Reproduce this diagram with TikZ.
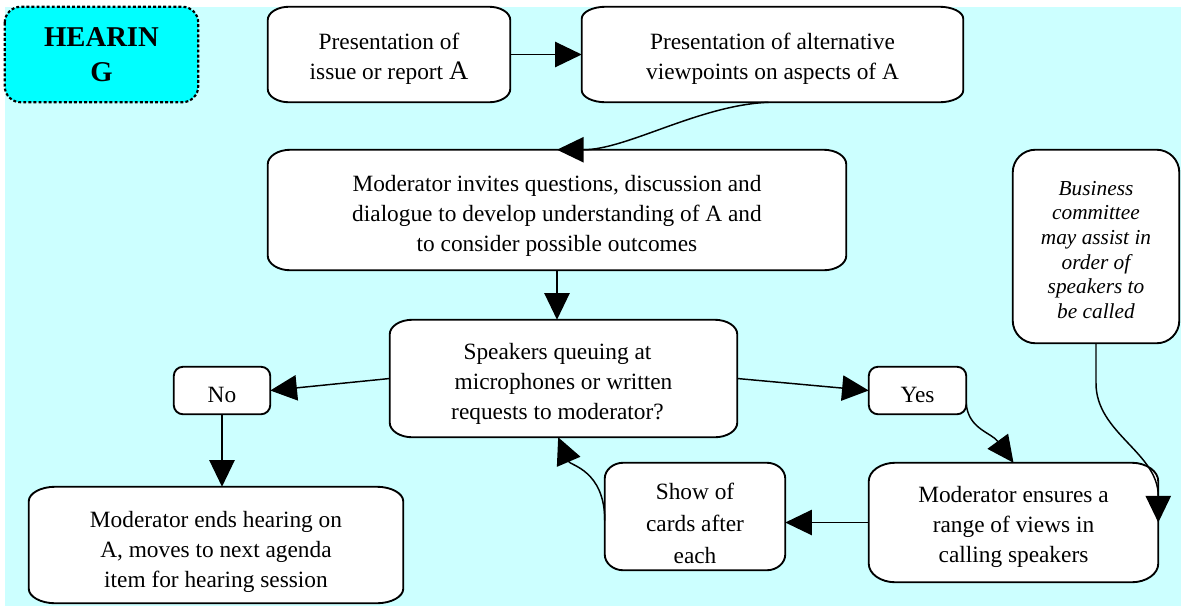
\documentclass[tikz,border=0pt]{standalone}
\usepackage{fontspec}
\setmainfont{Liberation Serif}
\usetikzlibrary{arrows.meta,calc}
\pgfdeclarelayer{bglayer}
\pgfdeclarelayer{boxlayer}
\pgfsetlayers{bglayer,boxlayer,main}
\definecolor{bgcyan}{HTML}{CCFFFF}
\definecolor{hcyan}{HTML}{00FFFF}
\newcommand\tstrut[1]{\rule{0pt}{#1}}
\newcommand\eboxdraw[3]{%
\begin{pgfonlayer}{boxlayer}
\draw[boxline] ([xshift=#2]#1.north west) -- ([xshift=-#2]#1.north east)
 arc[start angle=90,end angle=0,x radius=#2,y radius=#3]
 -- ([yshift=#3]#1.south east)
 arc[start angle=0,end angle=-90,x radius=#2,y radius=#3]
 -- ([xshift=#2]#1.south west)
 arc[start angle=270,end angle=180,x radius=#2,y radius=#3]
 -- ([yshift=-#3]#1.north west)
 arc[start angle=180,end angle=90,x radius=#2,y radius=#3] -- cycle;
\end{pgfonlayer}}
\tikzset{
 txt/.style={font=\fontsize{17.5}{22.5}\selectfont, align=center, inner sep=0pt},
 boxline/.style={draw=black, line width=1.4pt, fill=white},
 arr/.style={line width=1.1pt, -{Triangle[length=20pt,width=19pt]}},
}
\begin{document}
\begin{tikzpicture}[x=0.75pt,y=-0.75pt]
\useasboundingbox (0,0) rectangle (1181,608);
\begin{pgfonlayer}{bglayer}
\fill[white] (0,0) rectangle (1181,608);
\fill[bgcyan] (5,7) rectangle (1181,606);
\end{pgfonlayer}

\node[txt, minimum width=144.75pt, minimum height=71.25pt, font=\fontsize{21.5}{26}\selectfont\bfseries] (H) at (101.5,54.5) {HEARIN\\G};
\begin{pgfonlayer}{boxlayer}
\draw[line width=1.6pt, dash pattern=on 2.2pt off 1.6pt, fill=hcyan, rounded corners=12pt] (H.north west) rectangle (H.south east);
\end{pgfonlayer}

\node[txt, minimum width=181.5pt, minimum height=71.25pt] (P1) at (389,54.5) {\tstrut{18.5pt}Presentation of\\issue or report {\fontsize{20}{22.5}\selectfont A}};
\eboxdraw{P1}{16pt}{10pt}
\node[txt, minimum width=285.75pt, minimum height=71.25pt] (P2) at (772.5,54.5) {\tstrut{18.5pt}Presentation of alternative\\viewpoints on aspects of A};
\eboxdraw{P2}{18pt}{9pt}
\node[txt, minimum width=433.5pt, minimum height=90pt] (M1) at (557,210) {\tstrut{21.5pt}Moderator invites questions, discussion and\\dialogue to develop understanding of A and\\to consider possible outcomes};
\eboxdraw{M1}{17pt}{11pt}
\node[txt, minimum width=260.25pt, minimum height=87.75pt] (Q) at (563.5,378.5) {\tstrut{20pt}Speakers queuing at\hspace*{9pt}\\microphones or written\hspace*{9pt}\\requests to moderator?\hspace*{9pt}};
\eboxdraw{Q}{17pt}{11pt}
\node[txt, minimum width=72pt, minimum height=35.25pt] (No) at (222,390.5) {\tstrut{17.6pt}No};
\eboxdraw{No}{7pt}{7pt}
\node[txt, minimum width=72.75pt, minimum height=35.25pt] (Yes) at (917.5,390.5) {\tstrut{17.6pt}Yes};
\eboxdraw{Yes}{7pt}{7pt}
\node[txt, minimum width=280.5pt, minimum height=87pt] (End) at (216,545) {\tstrut{23pt}Moderator ends hearing on\\A, moves to next agenda\\item for hearing session};
\eboxdraw{End}{20pt}{11pt}
\node[txt, minimum width=135pt, minimum height=80.25pt, font=\fontsize{17.5}{24}\selectfont] (S) at (695,516.5) {\tstrut{22pt}Show of\\cards after\\each};
\eboxdraw{S}{14pt}{12pt}
\node[txt, minimum width=216.75pt, minimum height=89.25pt] (R) at (1013.5,522.5) {\tstrut{18.5pt}Moderator ensures a\\range of views in\\calling speakers};
\eboxdraw{R}{20pt}{14pt}
\node[txt, minimum width=124.5pt, minimum height=144.75pt, font=\fontsize{16}{18.4}\selectfont\itshape] (B) at (1096,246.5) {\tstrut{15.5pt}Business\\committee\\may assist in\\order of\\speakers to\\be called};
\eboxdraw{B}{17pt}{17pt}

\draw[arr] (P1.east) -- (P2.east -| P2.west);
\draw[arr] ([xshift=-3pt]P2.south) .. controls +(-70,3) and +(70,0) .. (M1.north);
\draw[arr] (M1.south) -- (M1.south |- Q.north);
\draw[arr] (Q.west) -- (No.east);
\draw[arr] (No.south) -- (No.south |- End.north);
\draw[arr] (Q.east) -- (Yes.west);
\draw[arr] ([yshift=-10pt]Yes.east) .. controls +(2,25) and +(-22,-30) .. (R.north);
\draw[arr] (R.west) -- (R.west -| S.east);
\draw[arr] ([yshift=-3pt]S.west) .. controls +(0,-50) and +(12,28) .. ([xshift=-4pt]Q.south);
\draw[arr] (B.south) -- ++(0,40) .. controls +(0,50) and +(0,-70) .. (R.east);
\end{tikzpicture}
\end{document}
